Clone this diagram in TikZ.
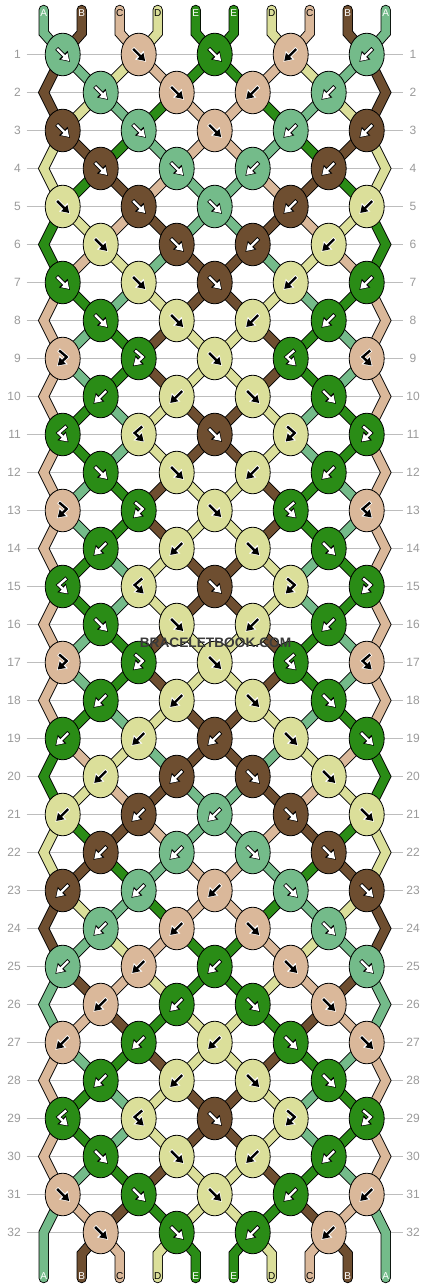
\documentclass[tikz,border=0pt]{standalone}
\usepackage{fontspec}
\setmainfont{Liberation Sans}
\usetikzlibrary{shapes.geometric,arrows.meta}
\definecolor{cA}{HTML}{74BB8A}
\definecolor{cB}{HTML}{6E4E30}
\definecolor{cC}{HTML}{DAB89A}
\definecolor{cD}{HTML}{DBDF9A}
\definecolor{cE}{HTML}{2A8C16}
\definecolor{grid}{HTML}{BDBDBD}
\definecolor{num}{HTML}{9A9A9A}
\definecolor{stamp}{HTML}{3A3A3A}
\colorlet{fgA}{white}\colorlet{bgA}{black}
\colorlet{fgB}{white}\colorlet{bgB}{black}
\colorlet{fgC}{black}\colorlet{bgC}{white}
\colorlet{fgD}{black}\colorlet{bgD}{white}
\colorlet{fgE}{white}\colorlet{bgE}{black}
\pgfdeclarelayer{paper}
\pgfdeclarelayer{threads}
\pgfsetlayers{paper,threads,main}
\tikzset{
  knot/.style={ellipse, draw=black, line width=0.8pt, minimum width=35pt, minimum height=42.6pt, inner sep=0pt},
  rim/.style={draw=black, line width=10.4pt},
  strand/.style={line width=8.6pt},
  rowline/.style={draw=grid, line width=0.9pt},
  rownum/.style={text=num, font=\fontsize{12}{14}\selectfont, inner sep=0pt},
  endlab/.style={font=\fontsize{10}{12}\selectfont, inner sep=0pt},
  arrbg/.style={draw=\abg, line width=4pt, shorten <=-0.8pt, shorten >=-1.2pt, -{Triangle[length=9.5pt,width=11.5pt]}},
  arrfg/.style={draw=\afg, line width=2.4pt, -{Triangle[length=7pt,width=8.5pt]}},
}
% knot arrows: forward, backward, forward-backward, backward-forward
\newcommand\arrpath[1]{\draw[arrbg] #1; \draw[arrfg] #1;}
\newcommand\arrf{\arrpath{(-5.5,-5.5) -- (6.5,6.5)}}
\newcommand\arrb{\arrpath{(5.5,-5.5) -- (-6.5,6.5)}}
\newcommand\arrfb{\arrpath{(-3.5,-8) -- (4,-1.5) -- (-5,7)}}
\newcommand\arrbf{\arrpath{(3.5,-8) -- (-4,-1.5) -- (5,7)}}

\begin{document}
\begin{tikzpicture}[x=1pt, y=-1pt]
\begin{pgfonlayer}{paper}
  \fill[white] (0,0) rectangle (430,1288);
  \foreach \r in {1,...,32} {
    \draw[rowline] (26.7,{54.5+38*(\r-1)}) -- (403.3,{54.5+38*(\r-1)});
    \node[rownum, anchor=east] (nl\r) at (21,{54.5+38*(\r-1)}) {\r};
    \node[rownum] (nr\r) at (413,{54.5+38*(\r-1)}) {\r};
  }
\end{pgfonlayer}
\useasboundingbox (0,0) rectangle (430,1288);

% knots, row by row: colour/type
\foreach \r/\knots in {
  1/{A/f,C/f,E/f,C/b,A/b}, 2/{A/f,C/f,C/b,A/b},
  3/{B/f,A/f,C/f,A/b,B/b}, 4/{B/f,A/f,A/b,B/b},
  5/{D/f,B/f,A/f,B/b,D/b}, 6/{D/f,B/f,B/b,D/b},
  7/{E/f,D/f,B/f,D/b,E/b}, 8/{E/f,D/f,D/b,E/b},
  9/{C/fb,E/fb,D/f,E/bf,C/bf}, 10/{E/b,D/b,D/f,E/f},
  11/{E/bf,D/bf,B/f,D/fb,E/fb}, 12/{E/f,D/f,D/b,E/b},
  13/{C/fb,E/fb,D/f,E/bf,C/bf}, 14/{E/b,D/b,D/f,E/f},
  15/{E/bf,D/bf,B/f,D/fb,E/fb}, 16/{E/f,D/f,D/b,E/b},
  17/{C/fb,E/fb,D/f,E/bf,C/bf}, 18/{E/b,D/b,D/f,E/f},
  19/{E/b,D/b,B/b,D/f,E/f}, 20/{D/b,B/b,B/f,D/f},
  21/{D/b,B/b,A/b,B/f,D/f}, 22/{B/b,A/b,A/f,B/f},
  23/{B/b,A/b,C/b,A/f,B/f}, 24/{A/b,C/b,C/f,A/f},
  25/{A/b,C/b,E/b,C/f,A/f}, 26/{C/b,E/b,E/f,C/f},
  27/{C/b,E/b,D/b,E/f,C/f}, 28/{E/b,D/b,D/f,E/f},
  29/{E/bf,D/bf,B/f,D/fb,E/fb}, 30/{E/f,D/f,D/b,E/b},
  31/{C/f,E/f,D/f,E/b,C/b}, 32/{C/f,E/f,E/b,C/b}} {
  \pgfmathtruncatemacro\sh{1-mod(\r,2)}
  \foreach \kc/\kt [count=\i from 0] in \knots {
    \pgfmathtruncatemacro\cc{2*\i+\sh}
    \node[knot, fill=c\kc] (k\r-\cc) at ({62.7+38*\cc},{54.5+38*(\r-1)}) {};
    \def\afg{fg\kc}\def\abg{bg\kc}
    \begin{scope}[shift={(k\r-\cc)}]
      \csname arr\kt\endcsname
    \end{scope}
  }
}

\begin{pgfonlayer}{threads}
  % threads between knots, order of the threads after each row
  \foreach \r/\ord in {
    1/{B,A,D,C,E,E,C,D,A,B}, 2/{B,D,A,E,C,C,E,A,D,B},
    3/{D,B,E,A,C,C,A,E,B,D}, 4/{D,E,B,C,A,A,C,B,E,D},
    5/{E,D,C,B,A,A,B,C,D,E}, 6/{E,C,D,A,B,B,A,D,C,E},
    7/{C,E,A,D,B,B,D,A,E,C}, 8/{C,A,E,B,D,D,B,E,A,C},
    9/{C,A,E,B,D,D,B,E,A,C}, 10/{C,E,A,D,B,B,D,A,E,C},
    11/{C,E,A,D,B,B,D,A,E,C}, 12/{C,A,E,B,D,D,B,E,A,C},
    13/{C,A,E,B,D,D,B,E,A,C}, 14/{C,E,A,D,B,B,D,A,E,C},
    15/{C,E,A,D,B,B,D,A,E,C}, 16/{C,A,E,B,D,D,B,E,A,C},
    17/{C,A,E,B,D,D,B,E,A,C}, 18/{C,E,A,D,B,B,D,A,E,C},
    19/{E,C,D,A,B,B,A,D,C,E}, 20/{E,D,C,B,A,A,B,C,D,E},
    21/{D,E,B,C,A,A,C,B,E,D}, 22/{D,B,E,A,C,C,A,E,B,D},
    23/{B,D,A,E,C,C,E,A,D,B}, 24/{B,A,D,C,E,E,C,D,A,B},
    25/{A,B,C,D,E,E,D,C,B,A}, 26/{A,C,B,E,D,D,E,B,C,A},
    27/{C,A,E,B,D,D,B,E,A,C}, 28/{C,E,A,D,B,B,D,A,E,C},
    29/{C,E,A,D,B,B,D,A,E,C}, 30/{C,A,E,B,D,D,B,E,A,C},
    31/{A,C,B,E,D,D,E,B,C,A}} {
    \pgfmathtruncatemacro\rn{\r+1}
    \pgfmathtruncatemacro\odd{mod(\r,2)}
    \foreach \s [count=\p from 0] in \ord {
      \ifnum\p>0 \ifnum\p<9
        \pgfmathtruncatemacro\ca{2*floor(\p/2)}
        \pgfmathtruncatemacro\cb{\p-1+mod(\p,2)}
        \ifnum\odd=1
          \draw[rim] (k\r-\ca.center) -- (k\rn-\cb.center);
          \draw[strand, draw=c\s] (k\r-\ca.center) -- (k\rn-\cb.center);
        \else
          \draw[rim] (k\r-\cb.center) -- (k\rn-\ca.center);
          \draw[strand, draw=c\s] (k\r-\cb.center) -- (k\rn-\ca.center);
        \fi
      \fi\fi
    }
  }
  % outer threads passing the even rows
  \foreach \r/\s in {2/B,4/D,6/E,8/C,10/C,12/C,14/C,16/C,18/C,20/E,22/D,24/B,26/A,28/C,30/C} {
    \pgfmathtruncatemacro\ra{\r-1}
    \pgfmathtruncatemacro\rb{\r+1}
    \coordinate (eL\r) at (43.7,{54.5+38*(\r-1)});
    \coordinate (eR\r) at (385.7,{54.5+38*(\r-1)});
    \draw[rim] (k\ra-0.center) -- (eL\r) -- (k\rb-0.center);
    \draw[strand, draw=c\s] (k\ra-0.center) -- (eL\r) -- (k\rb-0.center);
    \draw[rim] (k\ra-8.center) -- (eR\r) -- (k\rb-8.center);
    \draw[strand, draw=c\s] (k\ra-8.center) -- (eR\r) -- (k\rb-8.center);
  }
  % loose ends, top and bottom
  \foreach \s [count=\i from 0] in {A,B,C,D,E,E,D,C,B,A} {
    \pgfmathtruncatemacro\cc{2*floor(\i/2)}
    \coordinate (t\i) at ({43.7+38*\i},10);
    \coordinate (tb\i) at ({43.7+38*\i},33);
    \draw[rim, line cap=round] (t\i) -- (tb\i) -- (k1-\cc.center);
    \draw[strand, line cap=round, draw=c\s] (t\i) -- (tb\i) -- (k1-\cc.center);
  }
  \foreach \s [count=\i from 0] in {A,B,C,D,E,E,D,C,B,A} {
    \coordinate (b\i) at ({43.7+38*\i},1278);
    \ifnum\i=0
      \coordinate (bb\i) at (43.7,1232.7);
      \def\from{k31-0}
    \else\ifnum\i=9
      \coordinate (bb\i) at (385.7,1232.7);
      \def\from{k31-8}
    \else
      \pgfmathtruncatemacro\cc{\i-1+mod(\i,2)}
      \coordinate (bb\i) at ({43.7+38*\i},1254);
      \edef\from{k32-\cc}
    \fi\fi
    \draw[rim, line cap=round] (\from.center) -- (bb\i) -- (b\i);
    \draw[strand, line cap=round, draw=c\s] (\from.center) -- (bb\i) -- (b\i);
  }
\end{pgfonlayer}

% thread letters
\foreach \s [count=\i from 0] in {A,B,C,D,E,E,D,C,B,A} {
  \node[endlab, text=fg\s] (lt\i) at ({43.7+38*\i},12.7) {\s};
  \node[endlab, text=fg\s] (lb\i) at ({43.7+38*\i},1276) {\s};
}

\node[text=stamp, font=\bfseries\fontsize{13.7}{16}\selectfont, inner sep=0pt] (stamp) at (215.5,643) {BRACELETBOOK.COM};
\end{tikzpicture}
\end{document}
